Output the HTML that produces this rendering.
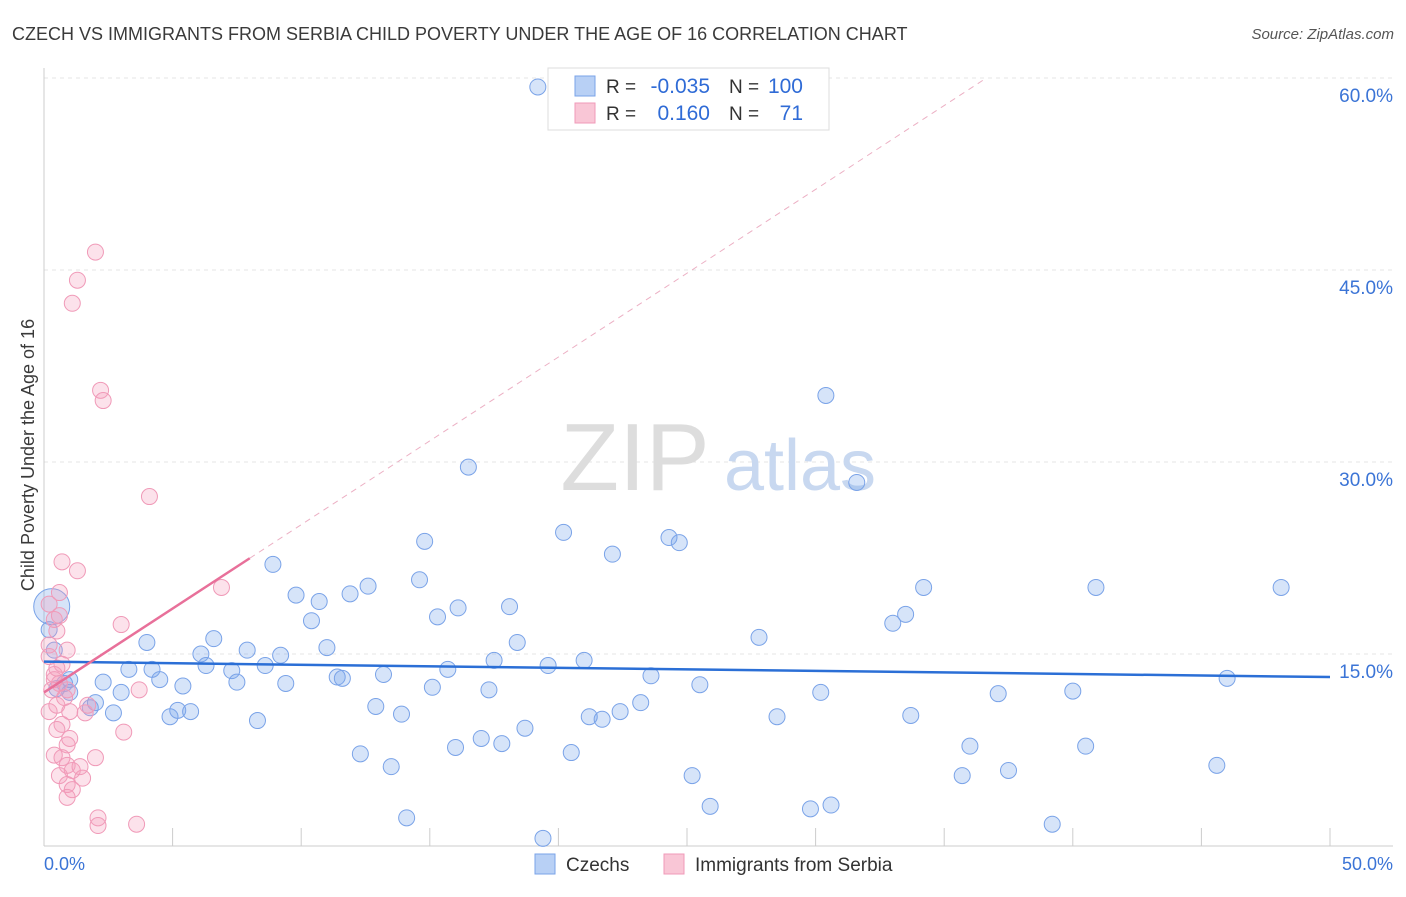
<!DOCTYPE html>
<html><head><meta charset="utf-8"><style>
body{margin:0;background:#fff;font-family:"Liberation Sans",sans-serif;}
svg text{font-family:"Liberation Sans",sans-serif;}
</style></head><body>
<svg id="chart" width="1406" height="892" viewBox="0 0 1406 892" xmlns="http://www.w3.org/2000/svg">
<text x="12" y="40" font-size="18" fill="#3a3a3a">CZECH VS IMMIGRANTS FROM SERBIA CHILD POVERTY UNDER THE AGE OF 16 CORRELATION CHART</text>
<text x="1394" y="39" font-size="15" fill="#555" text-anchor="end" font-style="italic">Source: ZipAtlas.com</text>
<g id="grid"></g>
<g>
<text x="635" y="490" font-size="96" fill="#ddd" font-family="Liberation Serif" text-anchor="middle">ZIP</text>
<text x="800" y="490" font-size="72" fill="#c8d8f0" text-anchor="middle">atlas</text>
</g>
<g id="axes"></g>
<g id="marks"></g>
<text transform="translate(34,455) rotate(-90)" font-size="18" fill="#3a3a3a" text-anchor="middle">Child Poverty Under the Age of 16</text>
<g>
<rect x="548" y="68" width="281" height="62" fill="#fff" stroke="#ddd"/>
<rect x="575" y="76" width="20" height="20" fill="#b8d0f5" stroke="#7aa3e8"/>
<rect x="575" y="103" width="20" height="20" fill="#f9c6d6" stroke="#f09ab8"/>
<text x="606" y="93" font-size="19" fill="#333">R =</text>
<text x="710" y="93" font-size="21" fill="#2f6bd6" text-anchor="end">-0.035</text>
<text x="729" y="93" font-size="19" fill="#333">N =</text>
<text x="803" y="93" font-size="21" fill="#2f6bd6" text-anchor="end">100</text>
<text x="606" y="120" font-size="19" fill="#333">R =</text>
<text x="710" y="120" font-size="21" fill="#2f6bd6" text-anchor="end">0.160</text>
<text x="729" y="120" font-size="19" fill="#333">N =</text>
<text x="803" y="120" font-size="21" fill="#2f6bd6" text-anchor="end">71</text>
</g>
<g>
<rect x="535" y="854" width="20" height="20" fill="#b8d0f5" stroke="#7aa3e8"/>
<text x="566" y="871" font-size="19" fill="#333">Czechs</text>
<rect x="664" y="854" width="20" height="20" fill="#f9c6d6" stroke="#f09ab8"/>
<text x="695" y="871" font-size="19" fill="#333">Immigrants from Serbia</text>
</g>
</svg>
<script>
const xTickValues=[0,5,10,15,20,25,30,35,40,45,50];
const yTickValues=[15,30,45,60];
const yTickLabels=["15.0%","30.0%","45.0%","60.0%"];
const czechX=[19.2,30.4,31.6,16.5,20.2,14.8,24.3,24.7,22.1,8.9,14.6,12.6,11.9,9.8,10.7,16.1,18.1,15.3,10.4,34.2,40.9,48.1,33.5,33.0,4.0,6.6,11.0,18.4,27.8,6.1,7.9,9.2,8.6,6.3,7.3,3.3,4.2,4.5,7.5,9.4,11.4,11.6,13.2,15.7,17.5,19.6,21.0,23.6,25.5,30.2,37.1,40.0,46.0,2.3,3.0,5.4,1.0,2.0,1.8,2.7,4.9,5.2,5.7,8.3,12.9,13.9,15.1,17.3,18.7,21.2,21.7,22.4,23.2,28.5,33.7,12.3,13.5,16.0,17.0,17.8,20.5,25.2,25.9,29.8,30.6,35.7,36.0,37.5,40.5,45.6,14.1,19.4,39.2,0.5,0.4,1.0,0.2,0.8,0.3];
const czechY=[59.3,35.2,28.4,29.6,24.5,23.8,24.1,23.7,22.8,22.0,20.8,20.3,19.7,19.6,19.1,18.6,18.7,17.9,17.6,20.2,20.2,20.2,18.1,17.4,15.9,16.2,15.5,15.9,16.3,15.0,15.3,14.9,14.1,14.1,13.7,13.8,13.8,13.0,12.8,12.7,13.2,13.1,13.4,13.8,14.5,14.1,14.5,13.3,12.6,12.0,11.9,12.1,13.1,12.8,12.0,12.5,12.0,11.2,10.8,10.4,10.1,10.6,10.5,9.8,10.9,10.3,12.4,12.2,9.2,10.1,9.9,10.5,11.2,10.1,10.2,7.2,6.2,7.7,8.4,8.0,7.3,5.5,3.1,2.9,3.2,5.5,7.8,5.9,7.8,6.3,2.2,0.6,1.7,12.3,15.3,13.0,16.9,12.7,18.7];
const czechR=czechX.map((v,i)=>i===czechX.length-1?18:8);
const serbiaX=[2.0,1.3,1.1,2.2,2.3,4.1,0.7,1.3,6.9,0.6,0.2,3.0,0.5,0.9,0.2,0.7,0.4,0.6,0.3,0.9,3.7,0.2,0.5,1.0,1.6,0.7,0.5,3.1,0.9,0.4,2.0,0.7,0.9,1.1,0.6,1.5,0.9,1.1,0.9,2.1,2.1,3.6,0.2,0.4,0.5,0.8,1.7,1.0,1.4,0.4,0.6];
const serbiaY=[46.4,44.2,42.4,35.6,34.8,27.3,22.2,21.5,20.2,19.8,18.9,17.3,16.8,15.3,14.8,14.2,13.4,12.7,12.2,12.2,12.2,10.5,11.0,10.5,10.4,9.5,9.1,8.9,7.9,7.1,6.9,6.9,6.3,5.9,5.5,5.3,4.8,4.4,3.8,2.2,1.6,1.7,15.7,13.0,13.9,11.6,11.0,8.4,6.2,17.7,18.0];
const czechTrend=[14.4,13.2];
const serbiaTrend={intercept:12.0,slope:1.31,solidEnd:8.0,dashEnd:36.6};

const NS="http://www.w3.org/2000/svg";
const X0=44,X1=1330,Y0=846,PXY=12.8;
const xs=v=>X0+v*(X1-X0)/50;
const ys=v=>Y0-v*PXY;
function mk(tag,attrs,parent){const e=document.createElementNS(NS,tag);for(const k in attrs)e.setAttribute(k,attrs[k]);parent.appendChild(e);return e;}
const grid=document.getElementById('grid'),axes=document.getElementById('axes'),marks=document.getElementById('marks');
yTickValues.forEach((v,i)=>{
 const l=mk('line',{x1:X0,x2:1393,y1:ys(v),y2:ys(v),stroke:'#e4e4e4','stroke-dasharray':'4,4'},grid);
 
 
 const t=mk('text',{x:1393,y:ys(v)+24,'font-size':19,fill:'#3b74d6','text-anchor':'end'},axes);
 t.textContent=yTickLabels[i];
 
 
});
const ax=mk('line',{x1:X0,x2:1393,y1:Y0,y2:Y0,stroke:'#ccc'},axes);


const ay=mk('line',{x1:X0,x2:X0,y1:68,y2:Y0,stroke:'#ccc'},axes);


xTickValues.forEach(v=>{
 const t=mk('line',{x1:xs(v),x2:xs(v),y1:828,y2:Y0,stroke:'#ccc'},axes);
 
 
});
const xl0=mk('text',{x:44,y:870,'font-size':18,fill:'#3b74d6'},axes);xl0.textContent='0.0%';


const xl1=mk('text',{x:1393,y:870,'font-size':18,fill:'#3b74d6','text-anchor':'end'},axes);xl1.textContent='50.0%';



czechX.forEach((v,i)=>{
 const c=mk('circle',{cx:xs(v),cy:ys(czechY[i]),r:czechR[i],fill:'rgba(120,165,235,0.3)',stroke:'#7aa3e8','stroke-width':1},marks);
 
 
});
serbiaX.forEach((v,i)=>{
 const c=mk('circle',{cx:xs(v),cy:ys(serbiaY[i]),r:8,fill:'rgba(245,160,190,0.3)',stroke:'#f09ab8','stroke-width':1},marks);
 
 
});
const bt=mk('line',{x1:xs(0),y1:ys(czechTrend[0]),x2:xs(50),y2:ys(czechTrend[1]),stroke:'#2b6fd6','stroke-width':2.5},marks);


const sy=x=>serbiaTrend.intercept+serbiaTrend.slope*x;
const pd=mk('line',{x1:xs(serbiaTrend.solidEnd),y1:ys(sy(serbiaTrend.solidEnd)),x2:xs(serbiaTrend.dashEnd),y2:ys(sy(serbiaTrend.dashEnd)),stroke:'#ecb0c4','stroke-width':1,'stroke-dasharray':'6,5'},marks);


const ps=mk('line',{x1:xs(0),y1:ys(sy(0)),x2:xs(serbiaTrend.solidEnd),y2:ys(sy(serbiaTrend.solidEnd)),stroke:'#e8709a','stroke-width':2.5},marks);


</script>
</body></html>
